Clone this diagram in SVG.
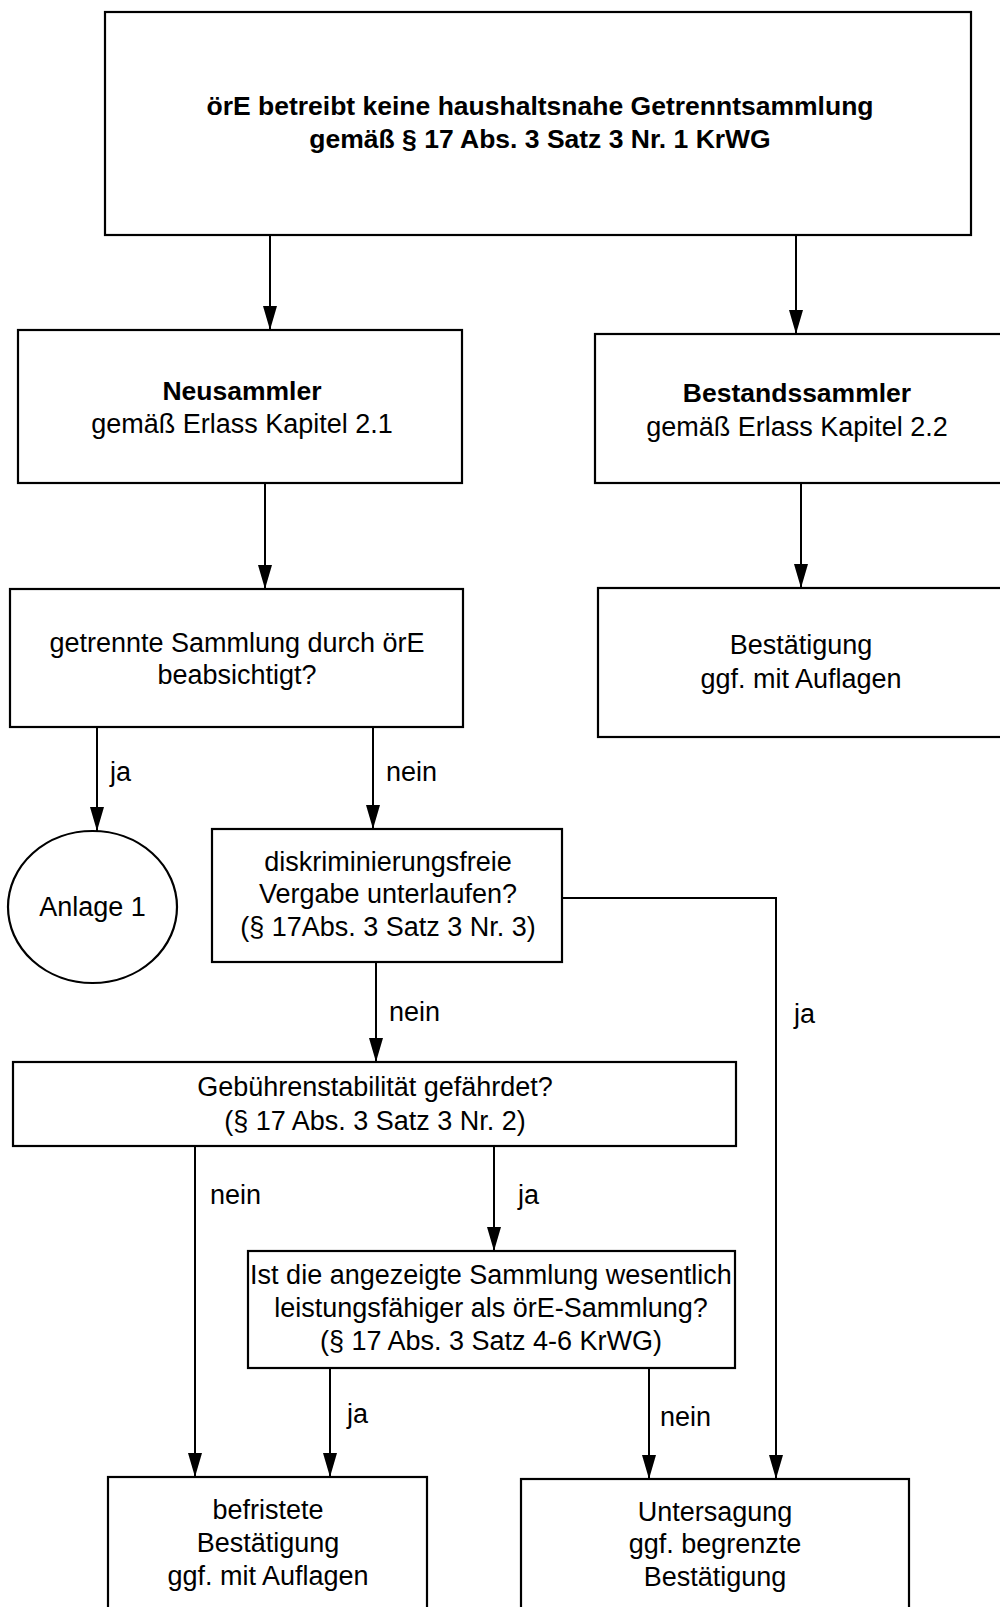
<svg xmlns="http://www.w3.org/2000/svg" width="1000" height="1607" viewBox="0 0 1000 1607">
<style>
.box{fill:#fff;stroke:#000;stroke-width:2.2}
.ln{fill:none;stroke:#000;stroke-width:2}
text{font-family:"Liberation Sans",Arial,sans-serif;font-size:27px;fill:#000}
.c{text-anchor:middle}
.b{font-weight:bold;font-size:26.5px}
</style>
<defs>
<marker id="arr" markerUnits="userSpaceOnUse" markerWidth="24" markerHeight="14" viewBox="0 0 24 14" refX="24" refY="7" orient="auto">
<path d="M0,0 L24,7 L0,14 Z" fill="#000"/>
</marker>
</defs>
<rect width="1000" height="1607" fill="#fff"/>
<g id="connectors">
<line class="ln" x1="270" y1="235" x2="270" y2="330" marker-end="url(#arr)"/>
<line class="ln" x1="796" y1="235" x2="796" y2="334" marker-end="url(#arr)"/>
<line class="ln" x1="265" y1="483" x2="265" y2="589" marker-end="url(#arr)"/>
<line class="ln" x1="801" y1="483" x2="801" y2="588" marker-end="url(#arr)"/>
<line class="ln" x1="97" y1="728" x2="97" y2="831" marker-end="url(#arr)"/>
<line class="ln" x1="373" y1="728" x2="373" y2="829" marker-end="url(#arr)"/>
<line class="ln" x1="376" y1="962" x2="376" y2="1062" marker-end="url(#arr)"/>
<polyline class="ln" points="562,898 776,898 776,1479" marker-end="url(#arr)"/>
<line class="ln" x1="195" y1="1146" x2="195" y2="1477" marker-end="url(#arr)"/>
<line class="ln" x1="494" y1="1146" x2="494" y2="1251" marker-end="url(#arr)"/>
<line class="ln" x1="330" y1="1368" x2="330" y2="1477" marker-end="url(#arr)"/>
<line class="ln" x1="649" y1="1368" x2="649" y2="1479" marker-end="url(#arr)"/>
<text x="110" y="781">ja</text>
<text x="386" y="781">nein</text>
<text x="389" y="1021">nein</text>
<text x="794" y="1023">ja</text>
<text x="210" y="1204">nein</text>
<text x="518" y="1204">ja</text>
<text x="347" y="1423">ja</text>
<text x="660" y="1426">nein</text>
</g>
<g id="start">
<rect class="box" x="105" y="12" width="866" height="223"/>
<text class="c b" x="540" y="115">örE betreibt keine haushaltsnahe Getrenntsammlung</text>
<text class="c b" x="540" y="148">gemäß § 17 Abs. 3 Satz 3 Nr. 1 KrWG</text>
</g>
<g id="neusammler">
<rect class="box" x="18" y="330" width="444" height="153"/>
<text class="c b" x="242" y="400">Neusammler</text>
<text class="c" x="242" y="433">gemäß Erlass Kapitel 2.1</text>
</g>
<g id="bestandssammler">
<rect class="box" x="595" y="334" width="410" height="149"/>
<text class="c b" x="797" y="402">Bestandssammler</text>
<text class="c" x="797" y="436">gemäß Erlass Kapitel 2.2</text>
</g>
<g id="getrennte">
<rect class="box" x="10" y="589" width="453" height="138"/>
<text class="c" x="237" y="652">getrennte Sammlung durch örE</text>
<text class="c" x="237" y="684">beabsichtigt?</text>
</g>
<g id="bestaetigung">
<rect class="box" x="598" y="588" width="410" height="149"/>
<text class="c" x="801" y="654">Bestätigung</text>
<text class="c" x="801" y="688">ggf. mit Auflagen</text>
</g>
<g id="anlage1">
<ellipse class="box" cx="92.5" cy="907" rx="84.5" ry="76"/>
<text class="c" x="92.5" y="916">Anlage 1</text>
</g>
<g id="diskriminierung">
<rect class="box" x="212" y="829" width="350" height="133"/>
<text class="c" x="388" y="871">diskriminierungsfreie</text>
<text class="c" x="388" y="903">Vergabe unterlaufen?</text>
<text class="c" x="388" y="936">(§ 17Abs. 3 Satz 3 Nr. 3)</text>
</g>
<g id="gebuehren">
<rect class="box" x="13" y="1062" width="723" height="84"/>
<text class="c" x="375" y="1096">Gebührenstabilität gefährdet?</text>
<text class="c" x="375" y="1130">(§ 17 Abs. 3 Satz 3 Nr. 2)</text>
</g>
<g id="leistung">
<rect class="box" x="248" y="1251" width="487" height="117"/>
<text class="c" x="491" y="1284">Ist die angezeigte Sammlung wesentlich</text>
<text class="c" x="491" y="1317">leistungsfähiger als örE-Sammlung?</text>
<text class="c" x="491" y="1350">(§ 17 Abs. 3 Satz 4-6 KrWG)</text>
</g>
<g id="befristete">
<rect class="box" x="108" y="1477" width="319" height="160"/>
<text class="c" x="268" y="1519">befristete</text>
<text class="c" x="268" y="1552">Bestätigung</text>
<text class="c" x="268" y="1585">ggf. mit Auflagen</text>
</g>
<g id="untersagung">
<rect class="box" x="521" y="1479" width="388" height="160"/>
<text class="c" x="715" y="1521">Untersagung</text>
<text class="c" x="715" y="1553">ggf. begrenzte</text>
<text class="c" x="715" y="1586">Bestätigung</text>
</g>
</svg>
